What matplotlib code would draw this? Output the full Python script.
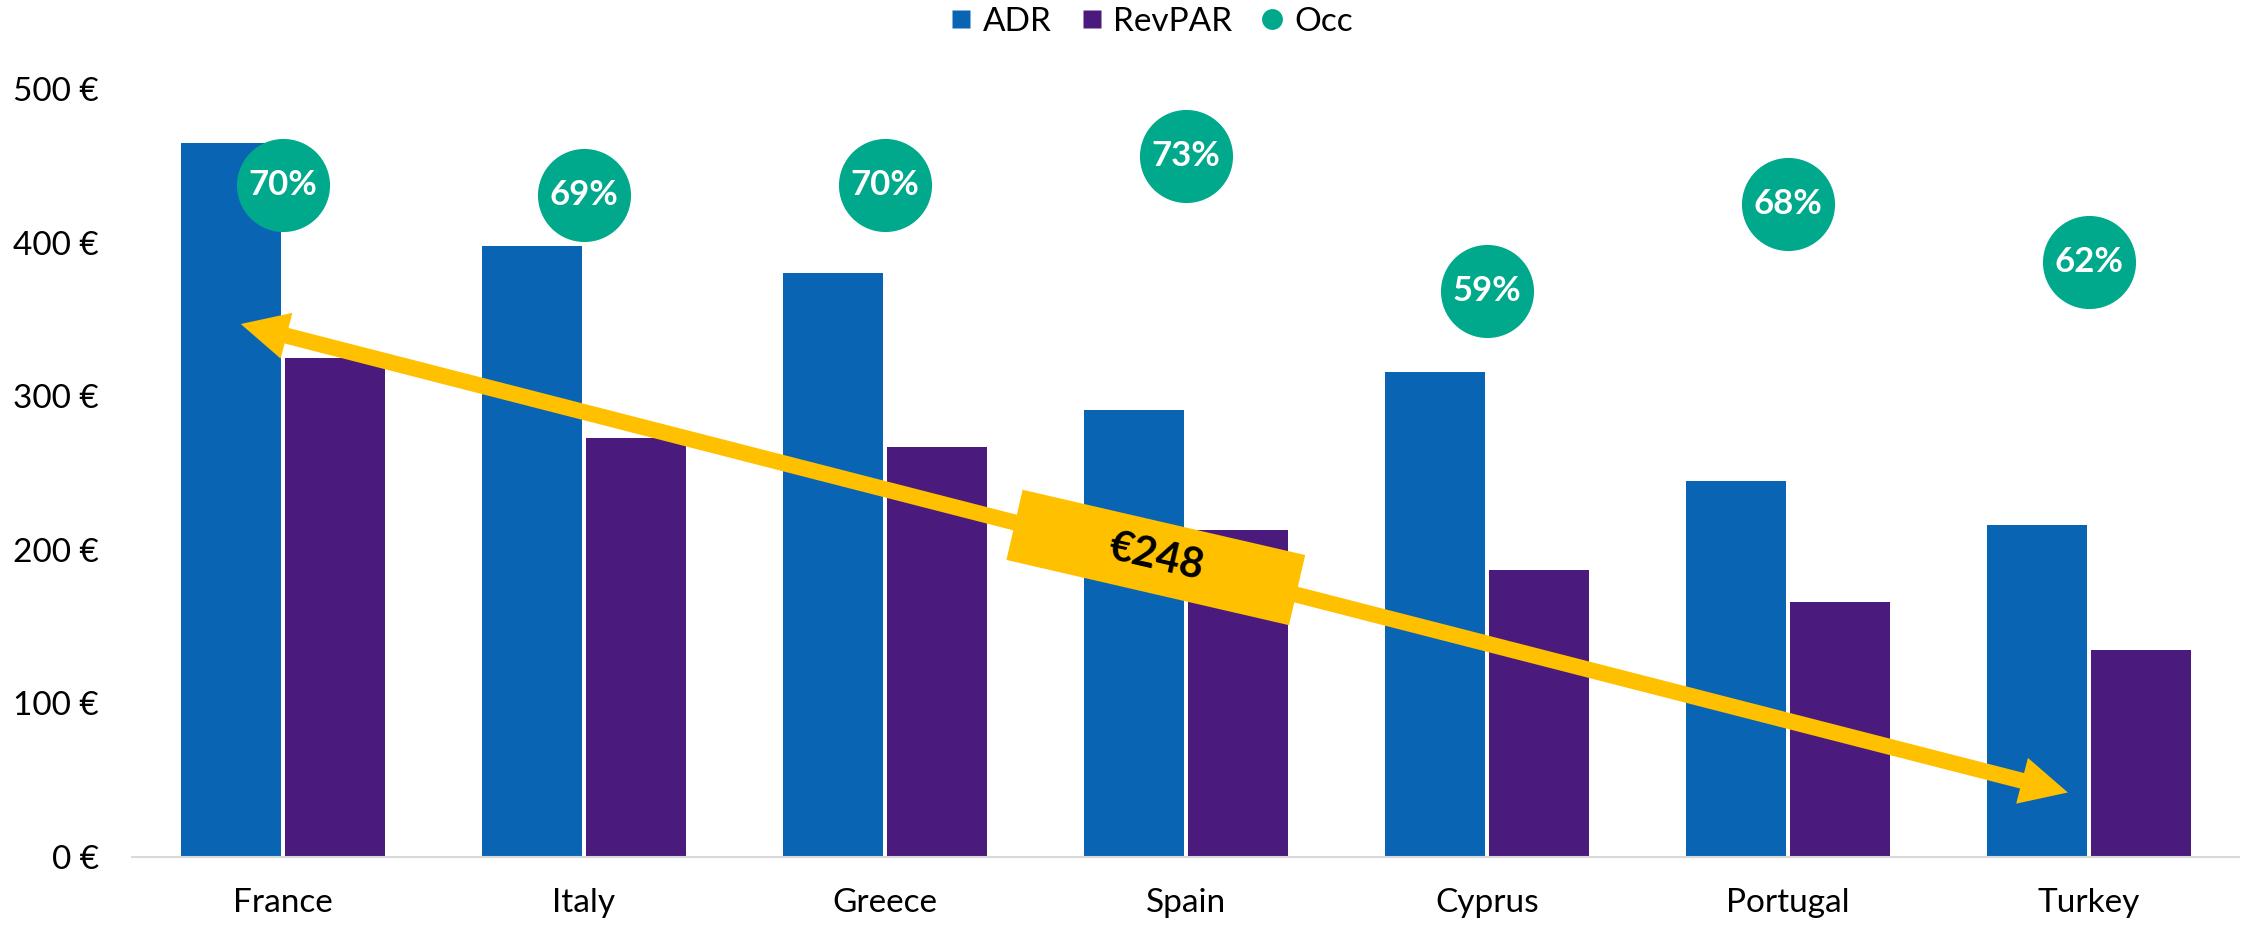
import matplotlib
matplotlib.use('Agg')
import matplotlib.pyplot as plt
import numpy as np
from matplotlib.lines import Line2D
from matplotlib.patches import Rectangle
from matplotlib.transforms import Affine2D, ScaledTranslation

plt.rcParams['font.family'] = ['Lato', 'DejaVu Sans']

# Dados do gráfico
paises = ['France', 'Italy', 'Greece', 'Spain', 'Cyprus', 'Portugal', 'Turkey']
adr = [465, 398, 380, 291, 316, 245, 216]
revpar = [325, 273, 267, 213, 187, 166, 135]
occ = [0.70, 0.69, 0.70, 0.73, 0.59, 0.68, 0.62]
eixo_y = [0, 100, 200, 300, 400, 500]

# Seta de diferença (coordenadas de dados)
seta_inicio = (-0.14, 347)
seta_fim = (5.93, 42)
rotulo_diferenca = '€248'
rotulo_pos = (2.90, 195)

COR_ADR = '#0A64B4'
COR_REVPAR = '#4A1A7C'
COR_OCC = '#00A98B'
COR_SETA = '#FFC000'

fig = plt.figure(figsize=(22.52, 9.27), dpi=100)
ax = fig.add_axes([0.0588, 0.0755, 0.9356, 0.8285])

x = np.arange(len(paises))
largura = 0.333
ax.bar(x - 0.173, adr, largura, color=COR_ADR, zorder=1)
ax.bar(x + 0.173, revpar, largura, color=COR_REVPAR, zorder=1)

ax.set_xlim(-0.5, len(paises) - 0.5)
ax.set_ylim(0, 500)
ax.set_xticks(x)
ax.set_xticklabels(paises)
ax.set_yticks(eixo_y)
ax.set_yticklabels([f'{v} €' for v in eixo_y])
ax.tick_params(axis='both', length=0, labelsize=24)
ax.tick_params(axis='y', pad=24)
ax.tick_params(axis='x', pad=22)
for lado in ['top', 'left', 'right']:
    ax.spines[lado].set_visible(False)
ax.spines['bottom'].set_color('#D9D9D9')
ax.spines['bottom'].set_linewidth(1.5)

# seta dupla: duas metades a partir do meio
meio = ((seta_inicio[0] + seta_fim[0]) / 2, (seta_inicio[1] + seta_fim[1]) / 2)
for ponta in (seta_inicio, seta_fim):
    ax.annotate('', xy=ponta, xytext=meio,
                arrowprops=dict(width=11.5, headwidth=34, headlength=34,
                                color=COR_SETA, lw=0), zorder=4)

# caixa amarela rotacionada com o valor
angulo = -13
caixa = Rectangle((-145, -36), 290, 72, facecolor=COR_SETA, edgecolor='none', zorder=5,
                  transform=Affine2D().rotate_deg(angulo)
                  + ScaledTranslation(rotulo_pos[0], rotulo_pos[1], ax.transData))
ax.add_patch(caixa)
ax.text(rotulo_pos[0], rotulo_pos[1], rotulo_diferenca, fontsize=30, fontweight='bold',
        color='black', ha='center', va='center', rotation=angulo, rotation_mode='anchor',
        zorder=6)

# ocupação no eixo secundário
ax2 = ax.twinx()
ax2.set_ylim(0, 0.8)
ax2.plot(x, occ, linestyle='none', marker='o', ms=66, color=COR_OCC, clip_on=False)
for xi, v in zip(x, occ):
    ax2.text(xi, v, f'{v:.0%}', color='white', fontsize=25, fontweight='bold',
             ha='center', va='center')
ax2.axis('off')

# legenda
alcas = [
    Line2D([], [], ls='none', marker='s', ms=13.5, mfc=COR_ADR, mec='none', label='ADR'),
    Line2D([], [], ls='none', marker='s', ms=13.5, mfc=COR_REVPAR, mec='none', label='RevPAR'),
    Line2D([], [], ls='none', marker='o', ms=15, mfc=COR_OCC, mec='none', label='Occ'),
]
fig.legend(handles=alcas, loc='center', bbox_to_anchor=(0.5115, 1 - 22 / 927), ncol=3,
           frameon=False, fontsize=24, handlelength=0.6, handletextpad=0.35,
           columnspacing=0.9, borderpad=0)

fig.savefig('out.png', dpi=100)
